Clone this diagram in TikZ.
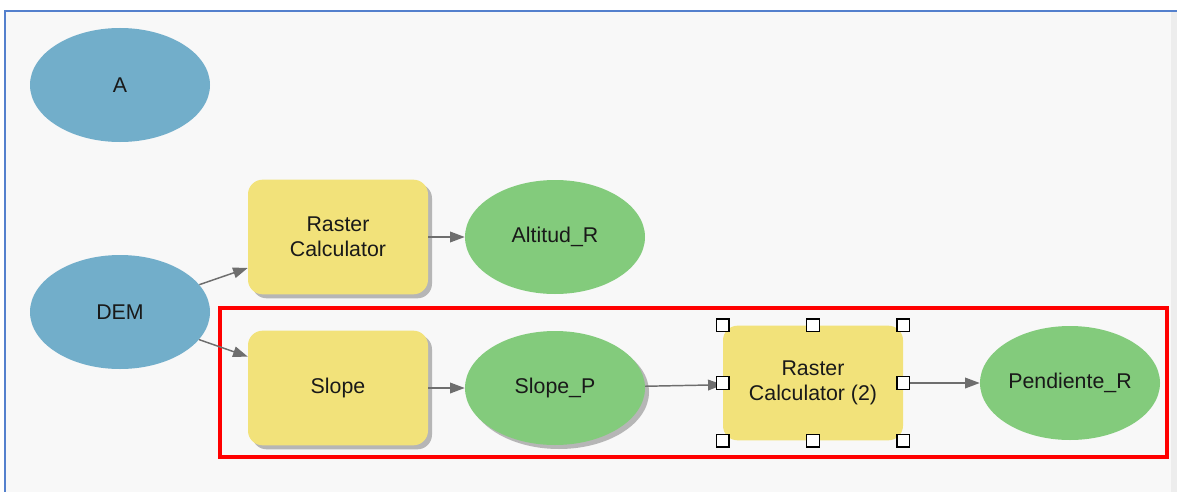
\documentclass[tikz,border=0pt]{standalone}
\usepackage{fontspec}
\setmainfont{Liberation Sans}
\usetikzlibrary{shapes.geometric,arrows.meta,shadows}
\definecolor{bgc}{RGB}{248,248,248}
\definecolor{framec}{RGB}{84,128,205}
\definecolor{bluef}{RGB}{114,174,202}
\definecolor{yellowf}{RGB}{242,226,122}
\definecolor{greenf}{RGB}{131,203,124}
\definecolor{arrowc}{RGB}{110,110,110}
\definecolor{txtc}{RGB}{25,25,25}
\definecolor{redc}{RGB}{255,0,0}
\tikzset{
  base/.style={inner sep=0pt, text=txtc, font=\fontsize{16}{19}\selectfont, align=center},
  dataoval/.style={base, ellipse, minimum width=135pt, minimum height=85.5pt},
  bluedata/.style={dataoval, fill=bluef},
  greendata/.style={dataoval, fill=greenf},
  toolbox/.style={base, rectangle, rounded corners=11pt, fill=yellowf, minimum width=135pt, minimum height=86pt},
  shad/.style={drop shadow={shadow xshift=3pt, shadow yshift=-3pt, opacity=0.45, fill=black!60}},
  conn/.style={draw=arrowc, line width=1.1pt, -{Triangle[length=11pt,width=8pt]}},
  handle/.style={draw=black, fill=white, line width=0.9pt, minimum size=9.5pt, inner sep=0pt, rectangle}
}
\begin{document}
\begin{tikzpicture}[x=0.75pt,y=-0.75pt]
\useasboundingbox (0,0) rectangle (1177,492);
\fill[white] (0,0) rectangle (1177,492);
\fill[bgc] (5,11) rectangle (1177,492);
\fill[black!7] (1171,11) rectangle (1177,492);
\draw[framec, line width=1.5pt] (5,492) -- (5,11) -- (1177,11);

\node[bluedata] (a) at (120,85) {A};
\node[bluedata] (dem) at (120,312) {DEM};
\node[toolbox, shad] (rc) at (338,237) {Raster\\Calculator};
\node[greendata] (alt) at (555,237) {Altitud\_R};
\node[toolbox, shad] (slope) at (338,388) {Slope};
\node[greendata, shad] (slopep) at (555,388) {Slope\_P};
\node[toolbox] (rc2) at (813,383) {Raster\\Calculator (2)};
\node[greendata] (pend) at (1070,383) {Pendiente\_R};

\draw[redc, line width=2.3pt] (220,308) rectangle (1167,457);

\draw[conn] (dem) -- (rc);
\draw[conn] (dem) -- (slope);
\draw[conn] (rc) -- (alt);
\draw[conn] (slope) -- (slopep);
\draw[conn] (slopep) -- (rc2);
\draw[conn] (rc2) -- (pend);

\foreach \an/\hn in {north west/nw, north/n, north east/ne, west/w, east/e, south west/sw, south/s, south east/se}{
  \node[handle] (h-\hn) at (rc2.\an) {};
}
\end{tikzpicture}
\end{document}
